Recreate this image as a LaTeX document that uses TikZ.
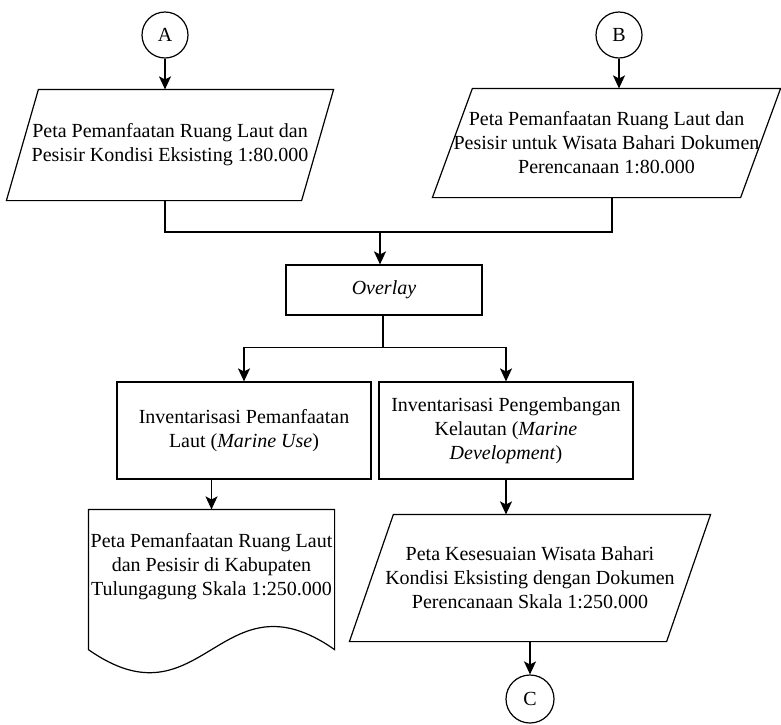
\documentclass[tikz,border=0pt]{standalone}
\usepackage{fontspec}
\setmainfont{Liberation Serif}
\usetikzlibrary{arrows.meta,calc}

\begin{document}
\begin{tikzpicture}[x=1pt,y=-1pt,line width=1.2pt,
  every node/.style={font=\fontsize{20}{24}\selectfont,align=center,inner sep=0pt},
  flow/.style={-{Stealth[length=13pt,width=12pt,inset=3pt]}},
  conn/.style={draw,circle,minimum size=46pt},
  procbox/.style={draw,rectangle,minimum width=254pt,minimum height=97pt},
  textarea/.style={minimum width=#1pt}]

\useasboundingbox[fill=white] (0,0) rectangle (781,724);

% off-page connectors
\node[conn] (A) at (165,35) {A};
\node[conn] (B) at (619,35) {B};
\node[conn,minimum size=48pt] (C) at (530,699) {C};

% input data (parallelograms: text node + outline from its corners)
\node[textarea=326,minimum height=110pt] (p1) at (170,145)
  {Peta Pemanfaatan Ruang Laut dan\\Pesisir Kondisi Eksisting 1:80.000};
\draw ($(p1.south west)$) -- ($(p1.north west)+(32,0)$) -- (p1.north east)
  -- ($(p1.south east)+(-32,0)$) -- cycle;

\node[textarea=347,minimum height=108pt] (p2) at (606.5,143)
  {Peta Pemanfaatan Ruang Laut dan\\Pesisir untuk Wisata Bahari Dokumen\\Perencanaan 1:80.000};
\draw (p2.south west) -- ($(p2.north west)+(40,0)$) -- (p2.north east)
  -- ($(p2.south east)+(-40,0)$) -- cycle;

% process
\node[draw,minimum width=196pt,minimum height=50pt] (ov) at (384,290) {\textit{Overlay}};

\node[procbox] (bl) at (244,430.5)
  {Inventarisasi Pemanfaatan\\Laut (\textit{Marine Use})};
\node[procbox] (br) at (506,430.5)
  {Inventarisasi Pengembangan\\Kelautan (\textit{Marine}\\\textit{Development})};

% output map (document shape)
\node[textarea=245,minimum height=114pt] (doc) at (211.5,567)
  {Peta Pemanfaatan Ruang Laut\\dan Pesisir di Kabupaten\\Tulungagung Skala 1:250.000};
\draw (doc.north west) -- (doc.north east) -- ($(doc.south east)+(0,25)$)
  .. controls ($(doc.south east)+(-114,-55)$) and ($(doc.south west)+(114,105)$)
  .. ($(doc.south west)+(0,25)$) -- cycle;

% output map (parallelogram)
\node[textarea=360,minimum height=126pt] (p3) at (530,578)
  {Peta Kesesuaian Wisata Bahari\\Kondisi Eksisting dengan Dokumen\\Perencanaan Skala 1:250.000};
\draw (p3.south west) -- ($(p3.north west)+(44,0)$) -- (p3.north east)
  -- ($(p3.south east)+(-44,0)$) -- cycle;

% connectors
\coordinate (j) at (380,232);
\draw[flow] (A.south) -- (A.south |- p1.north);
\draw[flow] (B.south) -- (B.south |- p2.north);
\draw (A.south |- p1.south) |- (j);
\draw ($(p2.south)+(5.5,0)$) |- (j);
\draw[flow] (j) -- (j |- ov.north);

\draw ($(ov.south)+(-1,0)$) -- ++(0,32) coordinate (s);
\draw[flow] (s) -| (bl.north);
\draw[flow] (s) -| (br.north);

\draw[flow] (doc.north |- bl.south) -- (doc.north);
\draw[flow] (br.south) -- (br.south |- p3.north);
\draw[flow] (p3.south) -- (C.north);
\end{tikzpicture}
\end{document}
